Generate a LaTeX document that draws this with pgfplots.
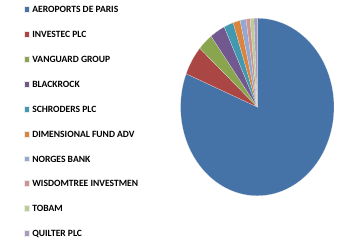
\documentclass[border=0pt]{standalone}
\usepackage{pgfplots}
\pgfplotsset{compat=1.18}
\usepackage{fontspec}
\setmainfont{Carlito}
\definecolor{c1}{HTML}{4572A7}
\definecolor{c2}{HTML}{AA4643}
\definecolor{c3}{HTML}{89A54E}
\definecolor{c4}{HTML}{71588F}
\definecolor{c5}{HTML}{4198AF}
\definecolor{c6}{HTML}{DB843D}
\definecolor{c7}{HTML}{93A9CF}
\definecolor{c8}{HTML}{D19392}
\definecolor{c9}{HTML}{B9CD96}
\definecolor{c10}{HTML}{A99BBD}
\begin{document}
\begin{tikzpicture}
\useasboundingbox (0,0) rectangle (345bp,241bp);
\begin{axis}[
  at={(257.3bp,134bp)}, anchor=origin,
  x=76.7bp, y=88.8bp,
  xmin=-1, xmax=1, ymin=-1, ymax=1,
  hide axis, clip=false,
  legend image code/.code={\fill[#1] (0bp,-2.9bp) rectangle (5.8bp,2.9bp);},
  legend cell align=left,
  legend style={at={(-1.025,1.07)}, anchor=north west, draw=none, fill=none,
    inner sep=0pt, row sep=17.85bp,
    font=\bfseries\fontsize{9.6}{10}\selectfont,
    nodes={inner xsep=2.8bp, inner ysep=0pt, text height=7bp, text depth=0pt}},
]
\gdef\start{90}
\foreach \v/\c in {81.1/c1,5.4/c2,3.2/c3,3.2/c4,2.0/c5,1.5/c6,1.25/c7,0.86/c8,0.8/c9,0.69/c10}{
  \pgfmathsetmacro\stop{\start-3.6*\v}
  \edef\temp{\noexpand\addplot[fill=\c, draw=white!85!gray, line width=0.15pt, domain=\stop:\start, samples=90] ({cos(x)},{sin(x)}) -- (axis cs:0,0) -- cycle;}
  \temp
  \global\let\start\stop
}
\legend{AEROPORTS DE PARIS,INVESTEC PLC,VANGUARD GROUP,BLACKROCK,SCHRODERS PLC,DIMENSIONAL FUND ADV,NORGES BANK,WISDOMTREE INVESTMEN,TOBAM,QUILTER PLC}
\end{axis}
\end{tikzpicture}
\end{document}
